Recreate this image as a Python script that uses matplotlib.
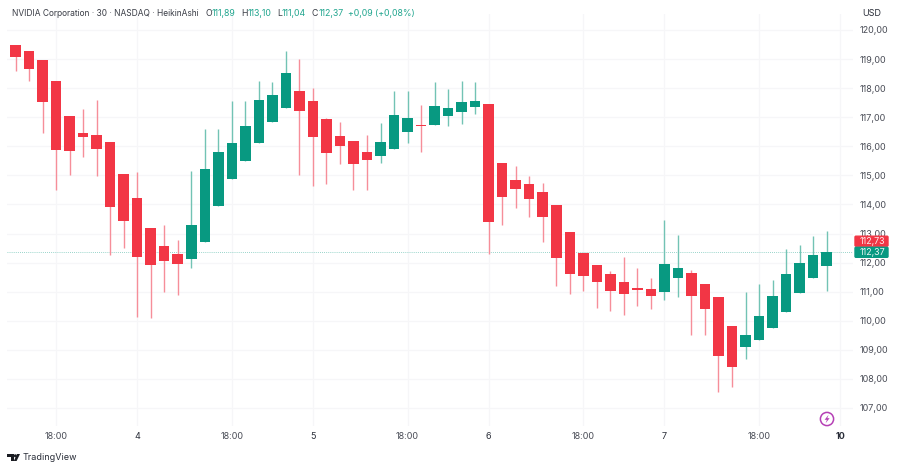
import numpy as np
import matplotlib
matplotlib.use("Agg")
import matplotlib.pyplot as plt
from matplotlib.patches import Circle, FancyBboxPatch, Polygon

plt.rcParams['font.family'] = ['Inter', 'DejaVu Sans']

# Heikin Ashi candles
opens = [119.47, 119.28, 118.96, 118.24, 117.05, 116.45, 116.40, 116.16, 115.04, 114.23,
         113.20, 112.57, 112.31, 112.13, 112.72, 113.96, 114.89, 115.50, 116.10, 116.85,
         117.32, 117.91, 117.56, 116.94, 116.37, 116.18, 115.80, 115.67, 115.91, 116.49,
         116.74, 116.72, 117.04, 117.18, 117.34, 117.46, 115.44, 114.84, 114.69, 114.44,
         113.99, 113.06, 112.33, 111.92, 111.62, 111.32, 111.13, 111.09, 110.98, 111.46,
         111.64, 111.25, 110.83, 109.81, 109.11, 109.33, 109.74, 110.30, 110.96, 111.48,
         111.89]
closes = [119.06, 118.66, 117.51, 115.86, 115.85, 116.33, 115.92, 113.92, 113.43, 112.19,
          111.93, 112.05, 111.96, 113.28, 115.21, 115.80, 116.12, 116.71, 117.59, 117.78,
          118.51, 117.21, 116.32, 115.78, 116.01, 115.40, 115.53, 116.16, 117.08, 116.98,
          116.69, 117.38, 117.32, 117.53, 117.56, 113.41, 114.26, 114.53, 114.20, 113.56,
          112.15, 111.60, 111.53, 111.33, 111.01, 110.92, 111.06, 110.86, 111.95, 111.82,
          110.86, 110.41, 108.78, 108.42, 109.51, 110.16, 110.86, 111.62, 112.00, 112.25,
          112.37]
highs = [119.47, 119.28, 118.96, 118.24, 117.05, 117.27, 117.59, 116.16, 115.04, 115.11,
         113.20, 113.28, 112.78, 115.16, 116.58, 116.58, 117.57, 117.57, 118.25, 118.22,
         119.29, 119.00, 118.00, 116.98, 116.83, 116.18, 116.38, 116.80, 117.89, 117.91,
         117.42, 118.21, 117.97, 118.26, 118.20, 117.46, 115.44, 115.31, 114.98, 114.74,
         113.99, 113.06, 112.33, 111.92, 111.71, 112.20, 111.83, 111.48, 113.46, 112.95,
         111.75, 111.25, 110.83, 109.81, 110.99, 111.25, 111.40, 112.48, 112.61, 112.91,
         113.10]
lows = [118.59, 118.25, 116.46, 114.50, 115.01, 115.62, 114.99, 112.26, 112.49, 110.12,
        110.10, 110.99, 110.89, 111.83, 112.72, 113.96, 114.89, 115.50, 116.10, 116.85,
        117.32, 115.02, 114.65, 114.70, 115.39, 114.51, 114.51, 115.44, 115.91, 116.11,
        115.80, 116.72, 116.71, 116.77, 117.11, 112.30, 113.29, 113.87, 113.57, 112.70,
        111.20, 110.93, 111.03, 110.44, 110.33, 110.20, 110.52, 110.40, 110.71, 110.82,
        109.50, 109.50, 107.54, 107.72, 108.68, 109.33, 109.74, 110.30, 110.96, 111.48,
        111.04]

time_ticks = [3, 9, 16, 22, 29, 35, 42, 48, 55, 61]
time_labels = ['18:00', '4', '18:00', '5', '18:00', '6', '18:00', '7', '18:00', '10']
price_ticks = [107, 108, 109, 110, 111, 112, 113, 114, 115, 116, 117, 118, 119, 120]
last_close = 112.37
last_open_tag = '112,73'
last_close_tag = '112,37'

UP = '#089981'
DOWN = '#f23645'
UP_WICK = '#72c3b4'
DOWN_WICK = '#f68e99'
GRID = '#f6f6f8'
TEXT = '#3a3d46'
HEAD = 6.3

W, H = 900, 469
fig = plt.figure(figsize=(W / 100, H / 100), dpi=100, facecolor='white')
ax = fig.add_axes([7 / W, 1 - 426 / H, 846 / W, 412 / H])

opens = np.array(opens)
closes = np.array(closes)
x = np.arange(len(opens))
colors = np.where(closes >= opens, UP, DOWN)
wick_colors = np.where(closes >= opens, UP_WICK, DOWN_WICK)

ax.vlines(x, lows, highs, colors=wick_colors, linewidth=1.0, zorder=2)
ax.bar(x, np.abs(closes - opens), bottom=np.minimum(opens, closes), width=0.78,
       color=colors, linewidth=0, zorder=3)
ax.axhline(last_close, color=UP, linewidth=0.6, linestyle=(0, (1, 1.5)), alpha=0.55, zorder=1)

ax.set_xlim(-0.63, 61.95)
ax.set_ylim(106.38, 120.55)
ax.set_xticks(time_ticks)
ax.set_xticklabels(time_labels)
ax.set_yticks(price_ticks)
ax.set_yticklabels(['%d,00' % p for p in price_ticks])
ax.yaxis.tick_right()
ax.tick_params(axis='both', length=0, labelsize=6.5, labelcolor='#4a4d57')
ax.tick_params(axis='x', pad=4.5)
ax.tick_params(axis='y', pad=5)
ax.grid(True, color=GRID, linewidth=0.9, zorder=0)
ax.set_axisbelow(True)
for s in ax.spines.values():
    s.set_visible(False)
# day numbers are darker than the hours, the last one is bold
for lab, name in zip(ax.get_xticklabels(), time_labels):
    if name != '18:00':
        lab.set_color('#2a2e39')
    if name == '10':
        lab.set_fontweight('bold')

# overlay in pixel coordinates for the header, tags and logos
ov = fig.add_axes([0, 0, 1, 1], facecolor='none')
ov.set_xlim(0, W)
ov.set_ylim(H, 0)
ov.axis('off')

ov.text(12, 13, 'NVIDIA Corporation · 30 · NASDAQ · HeikinAshi', fontsize=6.05,
        color=TEXT, va='center')
for px, key, val in [(205, 'O', '111,89'), (241, 'H', '113,10'), (277, 'L', '111,04'), (312, 'C', '112,37')]:
    t = ov.text(px, 13, key, fontsize=HEAD, color=TEXT, va='center')
    ov.annotate(val, xy=(1, 0.5), xycoords=t, va='center', fontsize=HEAD, color='#22a68f')
ov.text(348, 13, '+0,09 (+0,08%)', fontsize=HEAD, color='#22a68f', va='center')
ov.text(862.5, 14, 'USD', fontsize=6.5, color='#2a2e39', va='center')

for y0, col, tag in [(235.7, DOWN, last_open_tag), (246.8, UP, last_close_tag)]:
    ov.add_patch(FancyBboxPatch((855, y0 + 0.5), 33, 10, boxstyle='round,pad=0,rounding_size=1',
                                facecolor=col, edgecolor=col, linewidth=1))
    ov.text(860, y0 + 6.1, tag, fontsize=6.4, color='#ffffff', va='center', alpha=0.9)

# lightning badge
ov.add_patch(Circle((827, 419), 6.6, facecolor='white', edgecolor='#b53fb5', linewidth=1.1))
ov.add_patch(Polygon([(828.6, 414.8), (824.6, 419.8), (826.9, 419.8), (825.6, 423.2),
                      (829.6, 418.2), (827.3, 418.2)], closed=True, facecolor='#b53fb5', edgecolor='none'))

# TradingView logo
ov.add_patch(Polygon([(7, 454), (14, 454), (14, 461), (10.5, 461), (10.5, 457.5), (7, 457.5)],
                     closed=True, facecolor='#1a1c22', edgecolor='none'))
ov.add_patch(Circle((15.3, 455.8), 1.5, facecolor='#1a1c22', edgecolor='none'))
ov.add_patch(Polygon([(17, 454), (20, 454), (16.6, 461), (13.8, 461)], closed=True,
                     facecolor='#1a1c22', edgecolor='none'))
ov.text(23, 458, 'TradingView', fontsize=6.5, color='#2a2e39', va='center')

fig.savefig('out.png', dpi=100, facecolor='white')
